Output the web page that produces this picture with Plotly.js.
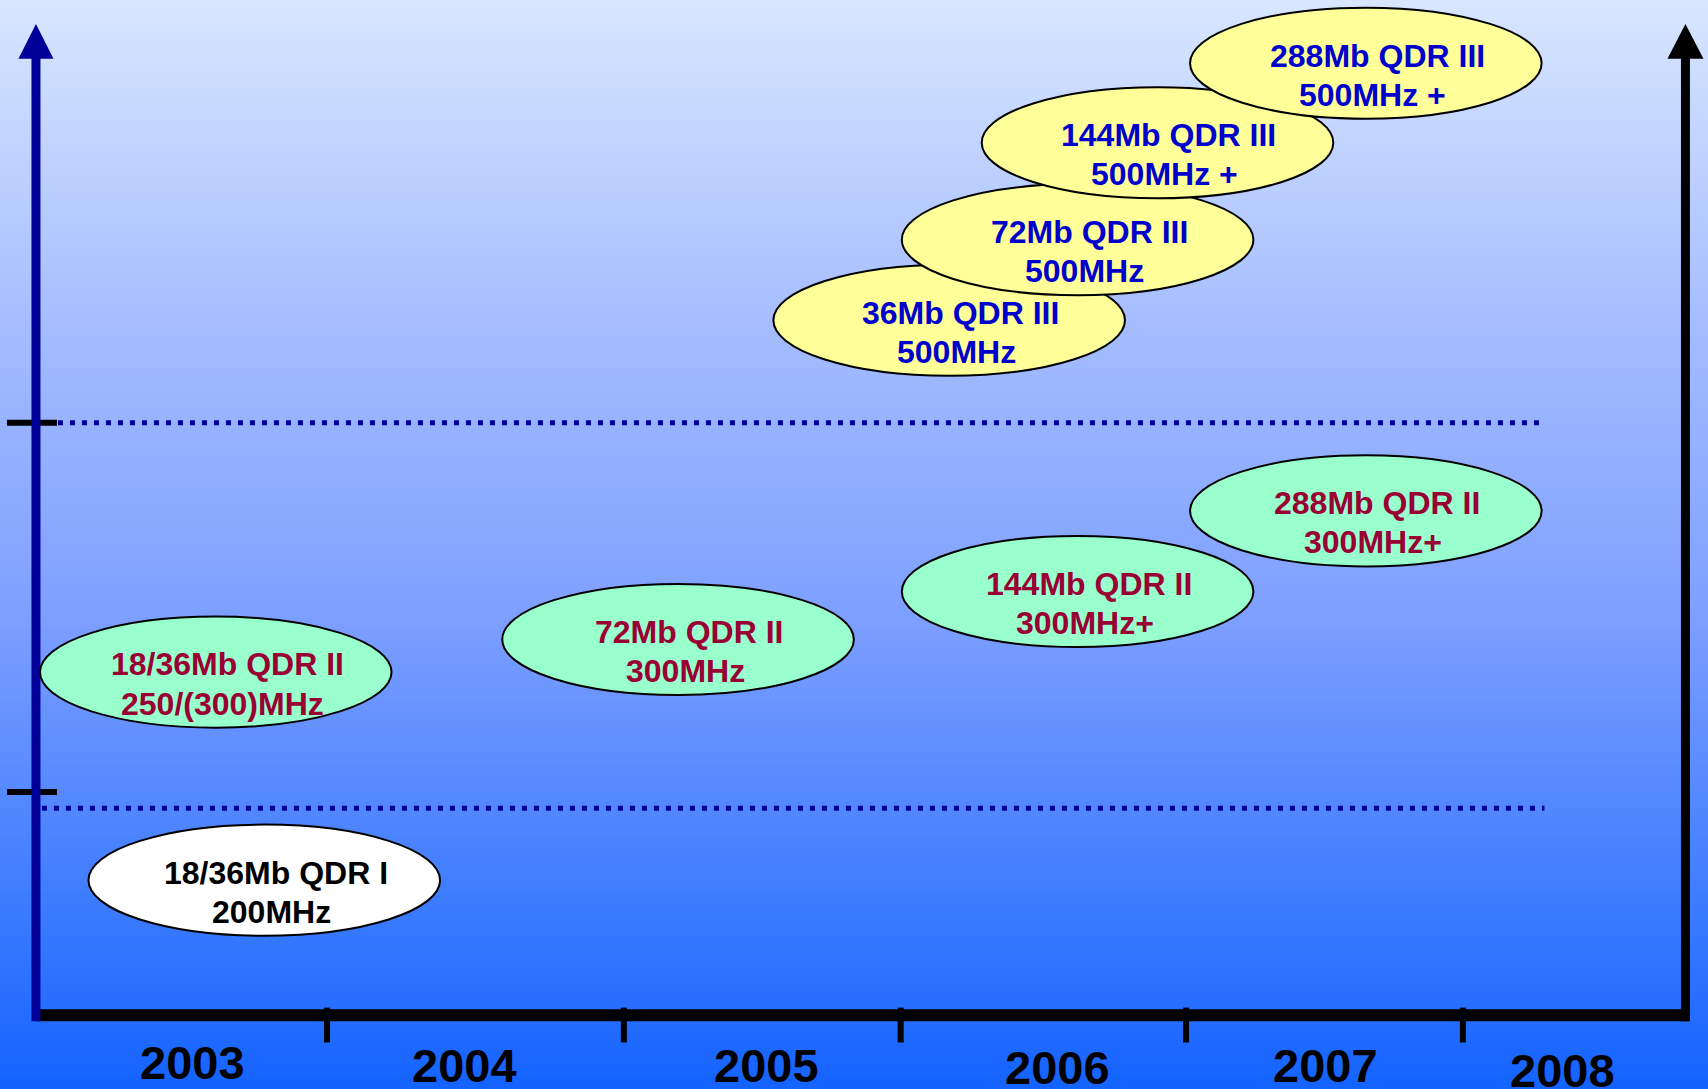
<!DOCTYPE html>
<html>
<head>
<meta charset="utf-8">
<script src="https://cdn.plot.ly/plotly-3.0.1.min.js"></script>
<style>
  html, body { margin: 0; padding: 0; background: #ffffff; }
  #chart { width: 1708px; height: 1089px; }
</style>
</head>
<body>
<div id="chart"></div>
<script>
// ---------------- DATA ----------------
const parts = ['18/36Mb QDR I', '18/36Mb QDR II', '72Mb QDR II', '144Mb QDR II', '288Mb QDR II',
               '36Mb QDR III', '72Mb QDR III', '144Mb QDR III', '288Mb QDR III'];
const speeds = ['200MHz', '250/(300)MHz', '300MHz', '300MHz+', '300MHz+',
                '500MHz', '500MHz', '500MHz +', '500MHz +'];
const generation = ['QDR I', 'QDR II', 'QDR II', 'QDR II', 'QDR II',
                    'QDR III', 'QDR III', 'QDR III', 'QDR III'];
const introYear = [2003.80, 2003.63, 2005.25, 2006.65, 2007.66, 2006.20, 2006.65, 2006.93, 2007.66];
const perfLevel = [1.24, 3.15, 3.45, 3.89, 4.63, 6.38, 7.12, 8.01, 8.74];

const yearLabels = ['2003', '2004', '2005', '2006', '2007', '2008'];
const yearLabelX = [2003.55, 2004.50, 2005.56, 2006.58, 2007.52, 2008.35];
const yearLabelY = [-0.43, -0.46, -0.46, -0.48, -0.46, -0.51];
const yearBoundaries = [2004.02, 2005.06, 2006.03, 2007.03, 2008.00];
const bandLimits = [1.90, 5.44];
const bandTicks = [2.05, 5.44];

// ---------------- STYLE / LAYOUT ----------------
const W = 1708, H = 1089;
const X0 = 2002.874, X1 = 2008.859;
const Y0 = -0.677, Y1 = 9.32;
const pxX = (X1 - X0) / W;
const pxY = (Y1 - Y0) / H;
const axisStart = 2003.0, axisEnd = 2008.78;
const arrowTip = 9.10, arrowBase = 8.78;
const dotsEnd = 2008.286;

const genStyle = {
  'QDR I':   {fill: '#FFFFFF', text: '#000000'},
  'QDR II':  {fill: '#99FFCC', text: '#990033'},
  'QDR III': {fill: '#FFFF99', text: '#0000CC'}
};
const ellHalfW = 0.616, ellHalfH = 0.51;
const FONT = 'Liberation Sans, Arial, Helvetica, sans-serif';

// background gradient (heatmap, smoothed)
const bg = {
  type: 'heatmap',
  x: [X0, X1],
  y: [Y0, Y1],
  z: [[0, 0], [1, 1]],
  zsmooth: 'best',
  zmin: 0, zmax: 1,
  colorscale: [[0, '#1463FF'], [0.16, '#3A7AFF'], [0.435, '#7D9FFF'], [0.71, '#A6BEFF'], [1, '#D8E6FF']],
  showscale: false,
  hoverinfo: 'skip'
};

const shapes = [];
const annotations = [];

// dotted band separators
bandLimits.forEach((y, i) => {
  shapes.push({
    type: 'line', xref: 'x', yref: 'y',
    x0: i === 0 ? axisStart + 6 * pxX : axisStart + 22 * pxX, x1: dotsEnd,
    y0: y, y1: y,
    line: {color: '#000099', width: 5, dash: '5px,7px'}
  });
});
// left black band ticks
bandTicks.forEach(y => {
  shapes.push({
    type: 'line', xref: 'x', yref: 'y',
    x0: axisStart - 29 * pxX, x1: axisStart + 21 * pxX, y0: y, y1: y,
    line: {color: '#000000', width: 6}
  });
});

// bottom time axis
shapes.push({type: 'line', xref: 'x', yref: 'y', x0: axisStart, x1: axisEnd + 4 * pxX, y0: 0, y1: 0,
             line: {color: '#000000', width: 12}});
yearBoundaries.forEach(x => {
  shapes.push({type: 'line', xref: 'x', yref: 'y', x0: x, x1: x, y0: 0.07, y1: -0.25,
               line: {color: '#000000', width: 6}});
});
// right axis + arrow
shapes.push({type: 'line', xref: 'x', yref: 'y', x0: axisEnd, x1: axisEnd, y0: -6 * pxY, y1: arrowBase + 2 * pxY,
             line: {color: '#000000', width: 9}});
shapes.push({type: 'path', xref: 'x', yref: 'y',
             path: `M ${axisEnd - 18 * pxX} ${arrowBase} L ${axisEnd} ${arrowTip} L ${axisEnd + 18 * pxX} ${arrowBase} Z`,
             fillcolor: '#000000', line: {width: 0}});
// left axis + arrow
shapes.push({type: 'line', xref: 'x', yref: 'y', x0: axisStart, x1: axisStart, y0: -6 * pxY, y1: arrowBase + 2 * pxY,
             line: {color: '#000099', width: 9}});
shapes.push({type: 'path', xref: 'x', yref: 'y',
             path: `M ${axisStart - 17.5 * pxX} ${arrowBase} L ${axisStart} ${arrowTip} L ${axisStart + 17.5 * pxX} ${arrowBase} Z`,
             fillcolor: '#000099', line: {width: 0}});

// product ellipses with two-line labels
parts.forEach((p, i) => {
  const st = genStyle[generation[i]];
  shapes.push({
    type: 'circle', xref: 'x', yref: 'y',
    x0: introYear[i] - ellHalfW, x1: introYear[i] + ellHalfW,
    y0: perfLevel[i] - ellHalfH, y1: perfLevel[i] + ellHalfH,
    fillcolor: st.fill, line: {color: '#000000', width: 2}
  });
  const f = {family: FONT, size: 32, color: st.text, weight: 700};
  annotations.push({
    xref: 'x', yref: 'y', x: introYear[i] + 0.04, y: perfLevel[i] + 0.07,
    text: p, showarrow: false, xanchor: 'center', yanchor: 'middle', font: f
  });
  annotations.push({
    xref: 'x', yref: 'y', x: introYear[i] + 0.025, y: perfLevel[i] - 0.29,
    text: speeds[i], showarrow: false, xanchor: 'center', yanchor: 'middle', font: f
  });
});

// year labels
yearLabels.forEach((t, i) => {
  annotations.push({
    xref: 'x', yref: 'y', x: yearLabelX[i], y: yearLabelY[i], text: t, showarrow: false,
    xanchor: 'center', yanchor: 'middle',
    font: {family: FONT, size: 47, color: '#000000', weight: 700}
  });
});

const layout = {
  width: W, height: H,
  margin: {l: 0, r: 0, t: 0, b: 0, pad: 0},
  paper_bgcolor: '#D8E6FF', plot_bgcolor: 'rgba(0,0,0,0)',
  showlegend: false,
  xaxis: {range: [X0, X1], visible: false, fixedrange: true},
  yaxis: {range: [Y0, Y1], visible: false, fixedrange: true},
  shapes: shapes,
  annotations: annotations
};

Plotly.newPlot('chart', [bg], layout, {displayModeBar: false, staticPlot: true});
</script>
</body>
</html>
